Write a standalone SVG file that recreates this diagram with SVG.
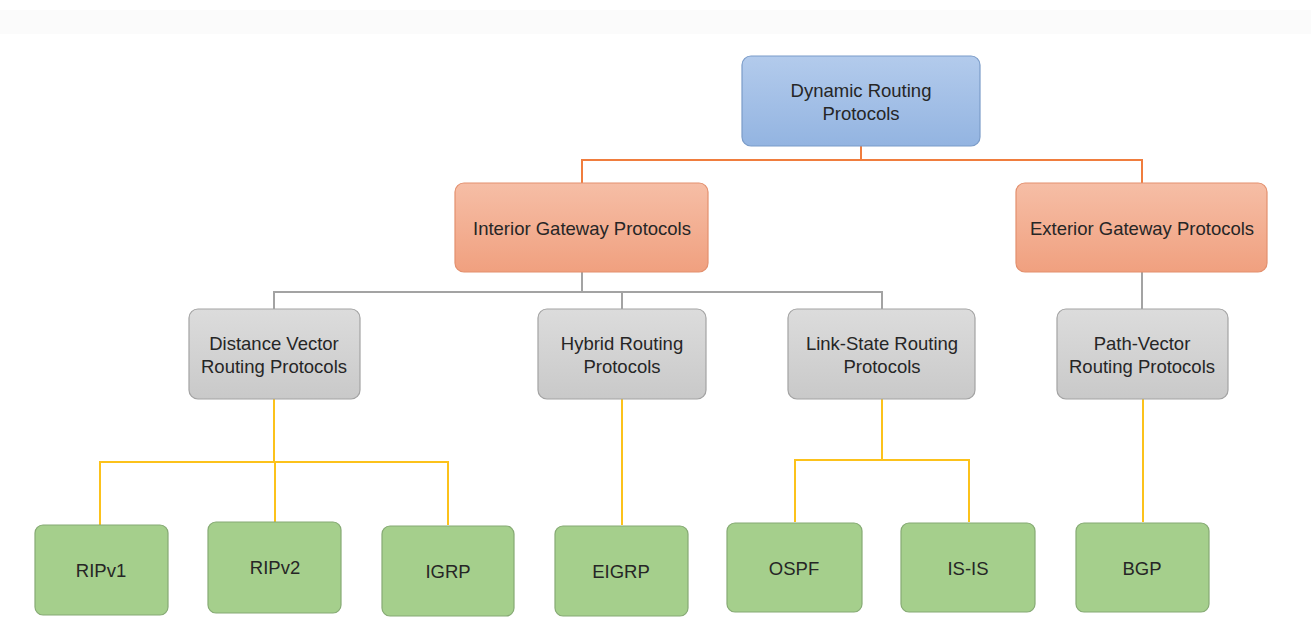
<svg xmlns="http://www.w3.org/2000/svg" width="1311" height="621" viewBox="0 0 1311 621">
<style>
text{font-family:"Liberation Sans",Arial,sans-serif;font-size:18.5px;fill:#262626;text-anchor:middle}
.blue{fill:url(#gb);stroke:#7b9cc9;stroke-width:1.2}
.org{fill:url(#go);stroke:#e3906e;stroke-width:1.2}
.gray{fill:url(#gg);stroke:#a3a3a3;stroke-width:1.2}
.grn{fill:#a5cf8c;stroke:#86aa74;stroke-width:1.2}
.c-o{stroke:#f07d3e;stroke-width:2;fill:none}
.c-g{stroke:#a3a3a3;stroke-width:2;fill:none}
.c-y{stroke:#fcc21b;stroke-width:2;fill:none}
</style>
<defs>
<linearGradient id="gb" x1="0" y1="0" x2="0" y2="1"><stop offset="0" stop-color="#b3cbec"/><stop offset="1" stop-color="#93b4e1"/></linearGradient>
<linearGradient id="go" x1="0" y1="0" x2="0" y2="1"><stop offset="0" stop-color="#f6bea6"/><stop offset="1" stop-color="#f0a07f"/></linearGradient>
<linearGradient id="gg" x1="0" y1="0" x2="0" y2="1"><stop offset="0" stop-color="#dcdcdc"/><stop offset="1" stop-color="#c9c9c9"/></linearGradient>
</defs>
<rect width="1311" height="621" fill="#ffffff"/>
<rect x="0" y="10" width="1311" height="24" fill="#fbfbfb"/>
<g id="connectors">
<path class="c-o" d="M861 146V160M582 183V160H1142V183"/>
<path class="c-g" d="M582 272V292M274 309V292H882V309M622 292V309M1142 272V309"/>
<path class="c-y" d="M274 399V462M100 525V462H448V525M275 462V522M622 399V525M882 399V460M795 522V460H969V522M1143 399V522"/>
</g>
<g id="n-root"><rect class="blue" x="742" y="56" width="238" height="90" rx="9"/><text x="861" y="97">Dynamic Routing</text><text x="861" y="120">Protocols</text></g>
<g id="n-igp"><rect class="org" x="455" y="183" width="253" height="89" rx="9"/><text x="582" y="235">Interior Gateway Protocols</text></g>
<g id="n-egp"><rect class="org" x="1016" y="183" width="251" height="89" rx="9"/><text x="1142" y="235">Exterior Gateway Protocols</text></g>
<g id="n-dv"><rect class="gray" x="189" y="309" width="171" height="90" rx="9"/><text x="274" y="350">Distance Vector</text><text x="274" y="373">Routing Protocols</text></g>
<g id="n-hy"><rect class="gray" x="538" y="309" width="168" height="90" rx="9"/><text x="622" y="350">Hybrid Routing</text><text x="622" y="373">Protocols</text></g>
<g id="n-ls"><rect class="gray" x="788" y="309" width="187" height="90" rx="9"/><text x="882" y="350">Link-State Routing</text><text x="882" y="373">Protocols</text></g>
<g id="n-pv"><rect class="gray" x="1057" y="309" width="171" height="90" rx="9"/><text x="1142" y="350">Path-Vector</text><text x="1142" y="373">Routing Protocols</text></g>
<g id="n-rip1"><rect class="grn" x="35" y="525" width="133" height="90" rx="8"/><text x="101" y="577">RIPv1</text></g>
<g id="n-rip2"><rect class="grn" x="208" y="522" width="133" height="91" rx="8"/><text x="275" y="574">RIPv2</text></g>
<g id="n-igrp"><rect class="grn" x="382" y="526" width="132" height="90" rx="8"/><text x="448" y="578">IGRP</text></g>
<g id="n-eigrp"><rect class="grn" x="555" y="526" width="133" height="90" rx="8"/><text x="621" y="578">EIGRP</text></g>
<g id="n-ospf"><rect class="grn" x="727" y="523" width="135" height="89" rx="8"/><text x="794" y="575">OSPF</text></g>
<g id="n-isis"><rect class="grn" x="901" y="523" width="134" height="89" rx="8"/><text x="968" y="575">IS-IS</text></g>
<g id="n-bgp"><rect class="grn" x="1076" y="523" width="133" height="89" rx="8"/><text x="1142" y="575">BGP</text></g>
</svg>
